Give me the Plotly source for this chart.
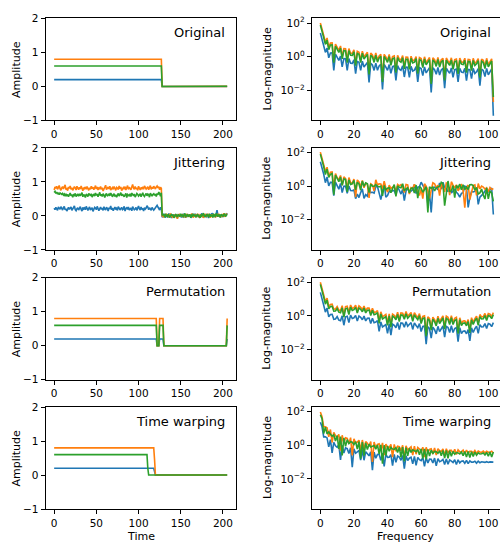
import numpy as np
import plotly.graph_objects as go

# ---------------- data ----------------
N_POINTS = 206
time = list(range(N_POINTS))
names = ["blue", "orange", "green"]
colors = ["#1f77b4", "#ff7f0e", "#2ca02c"]
levels = [0.2, 0.8, 0.6]            # plateau level of each series
end_residual = [0.0003, 0.002, 0.004]  # tiny value left at the last sample of the original

# run-length description (length, on/off) of the original and permuted signals
original_runs = [(128, 1), (78, 0)]
permutation_runs = [(122, 1), (3, 0), (5, 1), (75, 0), (1, 1)]

# time-warped signals (plateau, transition value, zeros)
warp_blue = [0.2] * 119 + [0.1] + [0.0] * 86
warp_orange = [0.8] * 119 + [0.45] + [0.0] * 86
warp_green = [0.6] * 111 + [0.2] + [0.0] * 94

# jitter offsets, in hundredths
jitter_blue = [
    3, -2, 5, 1, -4, 6, 2, -1, 7, 0,
    -3, 4, 8, -2, 1, -6, 3, 5, -1, 2,
    6, -4, 0, 3, 9, -2, -5, 1, 4, -3,
    2, 7, -1, -6, 5, 0, 3, -2, 8, 1,
    -4, 2, 6, -3, 0, 4, -7, 1, 5, 3,
    -2, 8, 2, -5, 1, 6, -1, 3, -4, 7,
    0, -3, 5, 2, -6, 4, 1, 9, -2, 3,
    -5, 0, 6, -1, 2, -4, 7, 3, -3, 1,
    5, -2, 0, 8, -6, 2, 4, -1, 6, -3,
    1, 3, -5, 7, 2, -2, 0, 5, -4, 4,
    9, 1, -3, 6, -1, 2, -6, 4, 0, 3,
    10, 6, -2, 4, 1, -4, 5, 2, -3, 0,
    3, 7, 11, 6, 2, -3, 5, 1, -4, -2,
    6, 2, -5, 3, 0, -4, 7, -1, 2, -6,
    1, 4, -3, 0, 5, -2, -7, 3, 1, -1,
    4, -5, 2, 6, -3, 0, 1, -4, 5, 2,
    -2, 3, -6, 1, 4, -1, 0, 6, -3, 2,
    5, -4, 1, -2, 3, 7, -1, -5, 2, 0,
    -3, 4, 2, -6, 1, 5, -2, 8, 3, -1,
    2, -4, 6, 17, 3, -2, 5, -5, 1, 4,
    -3, 2, 6, -1, 4, 8,
]
jitter_orange = [
    -4, 5, 1, 7, -2, 3, 9, 0, -5, 2,
    6, -1, 4, 11, -3, 2, -6, 5, 1, 8,
    -2, 3, -5, 0, 6, 2, -4, 7, 1, -3,
    4, -1, 8, 2, -6, 3, 0, 5, -2, 6,
    1, -5, 3, -2, 7, 0, 4, -3, 2, 9,
    -1, 5, -4, 2, 0, 6, -2, 3, -7, 1,
    4, 10, -3, 2, 5, -1, 7, -4, 0, 3,
    -2, 6, 1, -5, 4, 2, -3, 8, 0, 5,
    -6, 2, 3, -1, 6, -4, 1, 9, -2, 4,
    0, -3, 5, 12, 2, -2, 6, -1, 3, -5,
    7, 1, -4, 3, 0, 5, -2, 8, 4, -1,
    2, 6, -3, 1, 9, -2, 4, 0, 7, 3,
    -1, 5, 8, 2, 6, -3, 4, 1, -2, 3,
    -5, 4, 0, 6, -2, 1, -4, 3, 5, -1,
    2, -6, 3, 0, -3, 5, -9, 1, 4, -2,
    3, -1, 5, -4, 2, 0, -5, 6, 1, -2,
    4, -3, 1, 7, -1, -5, 2, 3, -4, 0,
    6, -2, -4, 3, 1, -1, 5, -6, 2, 4,
    -3, 0, 6, -2, 3, -5, 1, 4, -1, 2,
    5, -4, 0, 3, -2, 6, 1, -3, 4, -1,
    2, 7, -3, 1, 5, 3,
]
jitter_green = [
    9, 12, 6, 10, 4, 8, 2, 7, 5, 3,
    6, 1, 4, -2, 5, 0, 3, -4, 2, 7,
    -1, 3, -5, 2, 0, 6, -3, 1, 4, -2,
    5, -1, 2, 8, -4, 3, 0, -6, 4, 1,
    -3, 6, 2, -1, 5, -5, 1, 3, -2, 7,
    0, 4, -4, 2, 9, -1, 3, -3, 5, 1,
    -6, 2, 6, -2, 0, 4, -1, 7, 3, -4,
    1, 5, -3, 2, -5, 0, 6, -2, 3, 8,
    -1, 4, 0, -4, 2, 6, -6, 3, 1, -2,
    5, -3, 7, 2, -1, 4, -5, 0, 6, 3,
    -2, 1, 5, -4, 3, 8, 0, -3, 2, 6,
    -1, 4, 2, -5, 7, 1, -2, 3, 5, 0,
    4, -3, 6, 2, 10, 5, -2, 8, 1, 4,
    3, -4, 6, 0, -2, 5, 1, -5, 2, 4,
    -1, 3, -6, 2, 5, 0, -3, 4, 1, -2,
    6, -1, 2, -4, 3, 7, -2, 0, 5, -3,
    1, 4, -5, 2, 0, 6, -1, 3, -4, 2,
    5, -2, 1, -6, 4, 0, 3, 8, -3, 1,
    -2, 5, 2, -4, 6, -1, 0, 3, -5, 4,
    2, -3, 7, 1, -2, 4, 0, -4, 5, 2,
    -1, 3, 6, -2, 1, 4,
]

row_titles = ["Original", "Jittering", "Permutation", "Time warping"]
left_ticks = [0, 50, 100, 150, 200]
right_ticks = [0, 20, 40, 60, 80, 100]
amp_ticks = [-1, 0, 1, 2]
amp_ticktext = ["\u22121", "0", "1", "2"]
mag_ticks = [1e-2, 1e0, 1e2]
mag_ticktext = ["10<sup>\u22122</sup>", "10<sup>0</sup>", "10<sup>2</sup>"]


def from_runs(runs, level):
    out = []
    for length, on in runs:
        out += [level * on] * length
    return out


originals = []
for lv, res in zip(levels, end_residual):
    s = np.array(from_runs(original_runs, lv), dtype=float)
    s[-1] += res
    originals.append(s)
jitters = [o + np.array(j) / 100.0 for o, j in
           zip(originals, [jitter_blue, jitter_orange, jitter_green])]
perms = [np.array(from_runs(permutation_runs, lv), dtype=float) for lv in levels]
warps = [np.array(w, dtype=float) for w in (warp_blue, warp_orange, warp_green)]
rows = [originals, jitters, perms, warps]

# ---------------- layout geometry ----------------
W, H = 500, 550
left_px = (45.5, 235.8)
right_px = (311.7, 500.0)
right_frame_px = 502.0
row_tops = [12.7, 145.0, 277.8, 410.0]
row_h = 104.3

FONT = "DejaVu Sans"
fig = go.Figure()
layout = dict(width=W, height=H, margin=dict(l=0, r=0, t=0, b=0),
              paper_bgcolor="white", plot_bgcolor="white", showlegend=False,
              hovermode=False,
              font=dict(family=FONT, size=10.5, color="black"))
annotations = []

axis_common = dict(showgrid=False, zeroline=False, showline=True, linecolor="black",
                   linewidth=1, ticks="outside", ticklen=4, tickwidth=1, tickcolor="black",
                   tickfont=dict(family=FONT, size=10.5, color="black"))

for r in range(4):
    top = row_tops[r]
    bot = top + row_h
    ydom = [1 - bot / H, 1 - top / H]
    for c in range(2):
        idx = r * 2 + c + 1
        xa = "xaxis" if idx == 1 else f"xaxis{idx}"
        ya = "yaxis" if idx == 1 else f"yaxis{idx}"
        xref = "x" if idx == 1 else f"x{idx}"
        yref = "y" if idx == 1 else f"y{idx}"
        if c == 0:
            xdom = [left_px[0] / W, left_px[1] / W]
            layout[xa] = dict(axis_common, domain=xdom, anchor=yref, range=[-10.25, 215.25],
                              tickvals=left_ticks, mirror=True)
            layout[ya] = dict(axis_common, domain=ydom, anchor=xref, range=[-1, 2],
                              tickvals=amp_ticks, ticktext=amp_ticktext, mirror=True)
            for k in range(3):
                fig.add_trace(go.Scatter(x=time, y=rows[r][k], mode="lines",
                                         line=dict(color=colors[k], width=1.6),
                                         xaxis=xref, yaxis=yref))
            frame_r = left_px[1]
        else:
            xdom = [right_px[0] / W, right_px[1] / W]
            scale = (right_frame_px - right_px[0]) / (108.15 + 5.15)
            xmax = -5.15 + (right_px[1] - right_px[0]) / scale
            layout[xa] = dict(axis_common, domain=xdom, anchor=yref, range=[-5.15, xmax],
                              tickvals=right_ticks, mirror=True)
            layout[ya] = dict(axis_common, domain=ydom, anchor=xref, type="log",
                              range=[-3.8, 2.28], tickvals=mag_ticks, ticktext=mag_ticktext,
                              mirror=False)
            for k in range(3):
                spec = np.abs(np.fft.rfft(rows[r][k]))
                freq = list(range(len(spec)))
                fig.add_trace(go.Scatter(x=freq, y=spec, mode="lines",
                                         line=dict(color=colors[k], width=1.6),
                                         xaxis=xref, yaxis=yref))
            frame_r = right_frame_px
        # panel title
        annotations.append(dict(text=row_titles[r], xref="paper", yref="paper",
                                x=(frame_r - 9.0) / W, y=1 - (top + 14.5) / H,
                                xanchor="right", yanchor="middle", showarrow=False,
                                font=dict(family=FONT, size=13, color="black")))
    # y labels
    mid = top + row_h / 2
    annotations.append(dict(text="Amplitude", xref="paper", yref="paper", x=16.5 / W,
                            y=1 - mid / H, textangle=-90, showarrow=False,
                            xanchor="center", yanchor="middle",
                            font=dict(family=FONT, size=11, color="black")))
    annotations.append(dict(text="Log-magnitude", xref="paper", yref="paper", x=267.0 / W,
                            y=1 - mid / H, textangle=-90, showarrow=False,
                            xanchor="center", yanchor="middle",
                            font=dict(family=FONT, size=11, color="black")))

annotations.append(dict(text="Time", xref="paper", yref="paper",
                        x=(left_px[0] + left_px[1]) / 2 / W, y=1 - 542 / H,
                        showarrow=False, xanchor="center", yanchor="middle",
                        font=dict(family=FONT, size=11, color="black")))
annotations.append(dict(text="Frequency", xref="paper", yref="paper",
                        x=405 / W, y=1 - 542 / H,
                        showarrow=False, xanchor="center", yanchor="middle",
                        font=dict(family=FONT, size=11, color="black")))
layout["annotations"] = annotations
fig.update_layout(**layout)
fig.write_html("out.html",
               config={"displayModeBar": False, "staticPlot": True},
               post_script="document.body.style.margin='0px';"
                           "document.body.style.overflow='hidden';")
